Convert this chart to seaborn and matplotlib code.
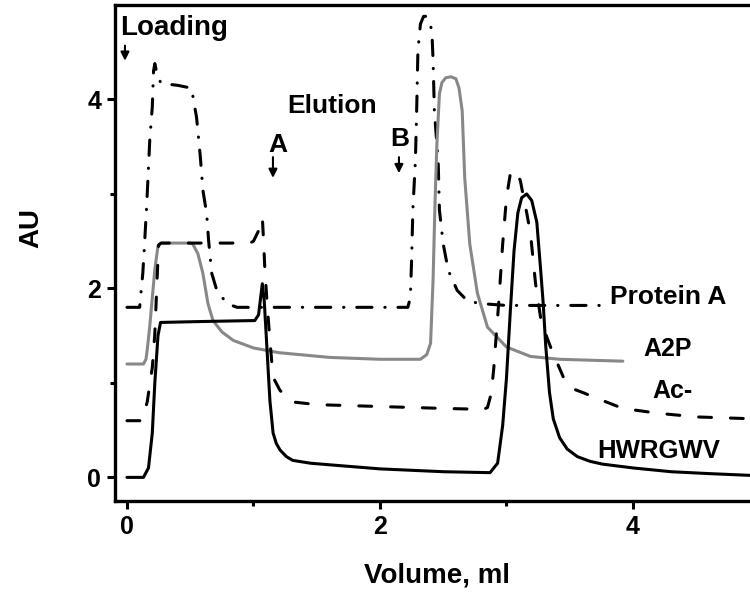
import matplotlib
matplotlib.use("Agg")
import matplotlib.pyplot as plt
import numpy as np
import pandas as pd
import seaborn as sns

# Chromatogram traces: elution volume (ml) and absorbance (AU)
protein_a_vol = [0.00, 0.10, 0.125, 0.14, 0.155, 0.165, 0.18, 0.20, 0.21, 0.22,
                 0.24, 0.27, 0.40, 0.51, 0.55, 0.58, 0.60, 0.63, 0.645, 0.67,
                 0.71, 0.79, 0.87, 1.50, 2.22, 2.24, 2.25, 2.26, 2.28, 2.29,
                 2.30, 2.32, 2.345, 2.37, 2.395, 2.41, 2.42, 2.43, 2.46, 2.47,
                 2.50, 2.54, 2.61, 2.69, 2.79, 3.00, 3.78]
protein_a_au = [1.80, 1.80, 2.16, 2.50, 2.86, 3.14, 3.57, 3.92, 4.30, 4.38,
                4.25, 4.17, 4.15, 4.12, 3.81, 3.39, 3.04, 2.79, 2.51, 2.16,
                1.98, 1.84, 1.80, 1.80, 1.80, 1.90, 2.30, 2.83, 3.35, 3.88,
                4.52, 4.80, 4.88, 4.88, 4.80, 4.73, 4.41, 3.88, 3.35, 2.83,
                2.47, 2.19, 1.98, 1.87, 1.84, 1.82, 1.82]

a2p_vol = [0.00, 0.13, 0.15, 0.16, 0.18, 0.20, 0.22, 0.245, 0.27, 0.50,
           0.52, 0.56, 0.60, 0.64, 0.68, 0.75, 0.84, 1.00, 1.20, 1.60,
           2.00, 2.32, 2.37, 2.40, 2.42, 2.435, 2.45, 2.47, 2.49, 2.52,
           2.56, 2.60, 2.625, 2.65, 2.67, 2.71, 2.77, 2.85, 3.00, 3.19,
           3.42, 3.92]
a2p_au = [1.20, 1.20, 1.25, 1.35, 1.60, 1.90, 2.20, 2.45, 2.48, 2.48,
          2.47, 2.37, 2.16, 1.84, 1.66, 1.54, 1.45, 1.37, 1.32, 1.27,
          1.25, 1.25, 1.30, 1.42, 2.10, 2.90, 3.53, 4.06, 4.18, 4.23,
          4.24, 4.22, 4.12, 3.88, 3.17, 2.47, 1.95, 1.59, 1.38, 1.28,
          1.25, 1.23]

ac_vol = [0.00, 0.12, 0.16, 0.20, 0.22, 0.24, 0.25, 0.27, 0.60, 0.97,
          1.00, 1.04, 1.07, 1.08, 1.09, 1.11, 1.13, 1.155, 1.21, 1.30,
          1.50, 2.00, 2.50, 2.82, 2.85, 2.88, 2.90, 2.92, 2.94, 2.97,
          3.00, 3.03, 3.06, 3.09, 3.11, 3.13, 3.16, 3.19, 3.23, 3.27,
          3.32, 3.36, 3.45, 3.50, 3.60, 3.69, 3.92, 4.19, 4.50, 4.95]
ac_au = [0.60, 0.60, 0.80, 1.16, 1.52, 2.16, 2.46, 2.48, 2.48, 2.48,
         2.50, 2.61, 2.75, 2.50, 2.20, 1.80, 1.45, 1.06, 0.92, 0.80,
         0.77, 0.75, 0.73, 0.72, 0.74, 0.89, 1.16, 1.52, 1.87, 2.47,
         2.96, 3.21, 3.26, 3.20, 3.14, 3.00, 2.80, 2.58, 2.05, 1.69,
         1.48, 1.34, 1.06, 0.95, 0.90, 0.85, 0.73, 0.68, 0.64, 0.62]

hw_vol = [0.00, 0.13, 0.17, 0.20, 0.22, 0.245, 0.265, 0.60, 1.01, 1.04,
          1.07, 1.085, 1.10, 1.115, 1.13, 1.155, 1.18, 1.21, 1.26, 1.31,
          1.45, 1.63, 2.00, 2.50, 2.87, 2.93, 2.97, 3.00, 3.03, 3.06,
          3.09, 3.12, 3.16, 3.20, 3.24, 3.27, 3.29, 3.31, 3.34, 3.37,
          3.42, 3.48, 3.56, 3.66, 3.76, 4.00, 4.30, 4.60, 4.95]
hw_au = [0.00, 0.00, 0.10, 0.47, 1.00, 1.50, 1.64, 1.65, 1.66, 1.72,
         2.05, 1.87, 1.52, 1.16, 0.81, 0.47, 0.36, 0.29, 0.22, 0.18,
         0.15, 0.13, 0.09, 0.06, 0.05, 0.15, 0.55, 1.05, 1.75, 2.40,
         2.80, 2.96, 3.00, 2.93, 2.70, 2.20, 1.85, 1.40, 0.90, 0.62,
         0.42, 0.30, 0.22, 0.17, 0.14, 0.10, 0.06, 0.04, 0.02]

trace_names = ["Protein A", "A2P", "Ac-", "HWRGWV"]
x_ticks = [0, 2, 4]
y_ticks = [0, 2, 4]

frames = []
for name, vol, au in zip(trace_names,
                         [protein_a_vol, a2p_vol, ac_vol, hw_vol],
                         [protein_a_au, a2p_au, ac_au, hw_au]):
    frames.append(pd.DataFrame({"volume": vol, "au": au, "trace": name}))
df = pd.concat(frames, ignore_index=True)

sns.set_style("ticks")
plt.rcParams["font.family"] = ["Liberation Sans", "DejaVu Sans"]
plt.rcParams["font.weight"] = "bold"
plt.rcParams["axes.labelweight"] = "bold"
plt.rcParams["text.color"] = "black"
plt.rcParams["axes.labelcolor"] = "black"
plt.rcParams["xtick.color"] = "black"
plt.rcParams["ytick.color"] = "black"
plt.rcParams["axes.edgecolor"] = "black"
plt.rcParams["lines.dash_capstyle"] = "round"
plt.rcParams["lines.solid_capstyle"] = "round"
plt.rcParams["lines.dash_joinstyle"] = "round"
plt.rcParams["lines.solid_joinstyle"] = "round"

fig = plt.figure(figsize=(7.5, 5.96), dpi=100)
ax = fig.add_axes([0.1533, 0.1594, 0.8593, 0.8322])

palette = {"Protein A": "black", "A2P": "#888888", "Ac-": "black", "HWRGWV": "black"}
dashes = {"Protein A": (5.0, 4.2, 0.1, 4.2), "A2P": "", "Ac-": (4.2, 6.2), "HWRGWV": ""}

sns.lineplot(data=df, x="volume", y="au", hue="trace", style="trace",
             hue_order=trace_names, style_order=trace_names,
             palette=palette, dashes=dashes, estimator=None, sort=False,
             linewidth=2.2, legend=False, ax=ax)

ax.set_xlim(-0.095, 5.0)
ax.set_ylim(-0.25, 5.0)
ax.set_xticks(x_ticks)
ax.set_yticks(y_ticks)
ax.set_xticks([1, 3], minor=True)
ax.set_yticks([1, 3], minor=True)
ax.tick_params(which="major", direction="out", length=6, width=2.2,
               labelsize=18, pad=4, colors="black", labelcolor="black")
ax.tick_params(which="minor", direction="out", length=3.5, width=2.2, colors="black")
for lab in ax.get_xticklabels() + ax.get_yticklabels():
    lab.set_fontweight("bold")
    lab.set_color("black")
for side in ["left", "bottom", "top", "right"]:
    ax.spines[side].set_linewidth(2.4)
    ax.spines[side].set_color("black")

ax.set_xlabel("Volume, ml", fontsize=20, fontweight="bold", color="black")
ax.set_ylabel("AU", fontsize=20, fontweight="bold", color="black")
ax.xaxis.set_label_coords(0.5, -0.123)
ax.yaxis.set_label_coords(-0.110, 0.55)

# Event markers
txt = dict(fontweight="bold", color="black", va="baseline")
ax.text(-0.055, 4.68, "Loading", fontsize=20, **txt)
ax.text(1.265, 3.86, "Elution", fontsize=19, **txt)
ax.text(1.19, 3.44, "A", fontsize=19, ha="center", **txt)
ax.text(2.16, 3.51, "B", fontsize=19, ha="center", **txt)
arrow_kw = dict(arrowstyle="-|>,head_length=0.5,head_width=0.25", lw=1.5,
                color="black", shrinkA=0, shrinkB=0)
ax.annotate("", xy=(-0.016, 4.41), xytext=(-0.016, 4.57), arrowprops=arrow_kw)
ax.annotate("", xy=(1.154, 3.17), xytext=(1.154, 3.39), arrowprops=arrow_kw)
ax.annotate("", xy=(2.15, 3.22), xytext=(2.15, 3.39), arrowprops=arrow_kw)

# Trace labels
ax.text(3.82, 1.84, "Protein A", fontsize=19, **txt)
ax.text(4.08, 1.29, "A2P", fontsize=18, **txt)
ax.text(4.15, 0.84, "Ac-", fontsize=18, **txt)
ax.text(3.72, 0.20, "HWRGWV", fontsize=18.5, **txt)

fig.savefig("out.png", dpi=100)
